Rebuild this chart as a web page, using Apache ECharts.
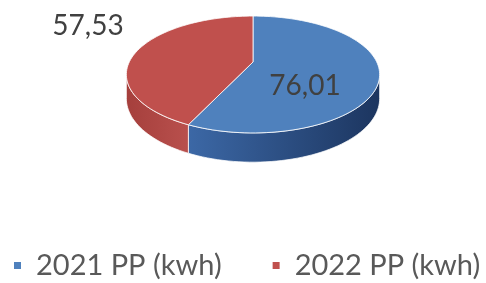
<!DOCTYPE html>
<html>
<head>
<meta charset="utf-8">
<script src="https://cdn.jsdelivr.net/npm/echarts@6/dist/echarts.min.js"></script>
<style>
  html, body { margin: 0; padding: 0; background: #fff; }
  #chart { width: 486px; height: 283px; }
</style>
</head>
<body>
<div id="chart"></div>
<script>
// data
const categories = ['2021 PP (kwh)', '2022 PP (kwh)']
const values = [76.01, 57.53]
const topColors = ['#4f81bd', '#c0504d']
const sideColors = [['#3c68a6', '#1c355f'], ['#a53f3c', '#b9504d']]
const labelPos = [[305, 86], [88, 26]] // label anchor on screen

// perspective pie geometry
const CX = 253, CY = 62
const D = 4.68, F = 579, G = 261, H = 23
const SIDE_A = 180 - Math.acos(1 / D) * 180 / Math.PI // left silhouette
const SIDE_B = 360 - SIDE_A

const total = values.reduce((a, b) => a + b, 0)

function proj(phiDeg, r, h) {
  const p = phiDeg * Math.PI / 180
  const u = r * Math.sin(p)
  const v = -r * Math.cos(p)
  const d = D - v
  return [CX + F * u / d, CY + G * v / d + H * D / d * h]
}

function arc(a, b, h) {
  const pts = []
  const n = Math.max(2, Math.ceil((b - a) / 2))
  for (let i = 0; i <= n; i++) pts.push(proj(a + (b - a) * i / n, 1, h))
  return pts
}

function makeRender(idx) {
  return function (params, api) {
    let before = 0
    for (let i = 0; i < idx; i++) before += values[i]
    const start = before / total * 360
    const end = start + api.value(0) / total * 360
    const children = []

    // side face
    const a = Math.max(start, SIDE_A), b = Math.min(end, SIDE_B)
    if (b > a) {
      const topArc = arc(a, b, 0)
      const botArc = arc(a, b, 1).reverse()
      children.push({
        type: 'polygon',
        shape: { points: topArc.concat(botArc) },
        style: {
          fill: new echarts.graphic.LinearGradient(0, 0, 1, 0, [
            { offset: 0, color: sideColors[idx][0] },
            { offset: 1, color: sideColors[idx][1] }
          ]),
          stroke: 'rgba(255,255,255,0.75)',
          lineWidth: 1
        }
      })
    }

    // top face
    const pts = [proj(0, 0, 0)].concat(arc(start, end, 0))
    children.push({
      type: 'polygon',
      shape: { points: pts },
      style: { fill: topColors[idx], stroke: 'rgba(255,255,255,0.8)', lineWidth: 1 }
    })

    children.push({
      type: 'text',
      style: {
        text: api.value(0).toFixed(2).replace('.', ','),
        x: labelPos[idx][0],
        y: labelPos[idx][1],
        fill: '#404040',
        font: '28px Lato',
        align: 'center',
        verticalAlign: 'middle'
      }
    })
    return { type: 'group', children }
  }
}

const chart = echarts.init(document.getElementById('chart'))
chart.setOption({
  animation: false,
  color: topColors,
  legend: {
    data: categories,
    left: 14,
    top: 251,
    width: 520,
    padding: 0,
    icon: 'rect',
    itemWidth: 7,
    itemHeight: 7,
    itemGap: 51,
    textStyle: { fontSize: 29, fontFamily: 'Lato', color: '#595959', padding: [0, 0, 0, 10] }
  },
  series: categories.map((name, i) => ({
    type: 'custom',
    name: name,
    coordinateSystem: 'none',
    itemStyle: { color: topColors[i] },
    renderItem: makeRender(i),
    data: [[values[i]]]
  }))
})
</script>
</body>
</html>
